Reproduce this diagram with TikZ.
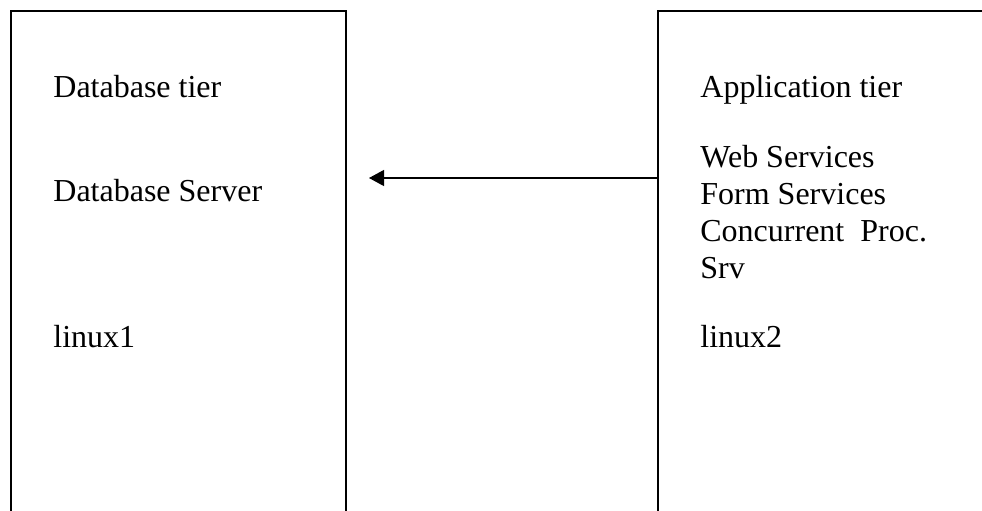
\documentclass[tikz,border=0pt]{standalone}
\usepackage{fontspec}
\setmainfont{Liberation Serif}
\usepackage{tikz}
\usetikzlibrary{arrows.meta}
\tikzstyle{tier} = [rectangle, draw, line width=0.9pt, anchor=north west,
    inner sep=0pt, minimum height=300pt]
\tikzstyle{tiertext} = [anchor=base west, inner sep=0pt, align=left,
    font=\fontsize{16}{18.4}\selectfont]
\tikzstyle{arrow} = [draw, -{Triangle[length=7.5pt,width=8pt]}, line width=0.6pt]

\begin{document}
\begin{tikzpicture}[x=0.5pt, y=-0.5pt]
			\clip (0,0) rectangle (982,510);
			% Place boxes
			\node [tier, minimum width=167.5pt] (dbbox) at (10,10) {};
			\node [tier, minimum width=200pt] (appbox) at (657,10) {};
			% Place texts (base = last line)
			\node [tiertext] (dbtier) at (53,97) {Database tier};
			\node [tiertext] (dbserver) at (53,201) {Database Server};
			\node [tiertext] (linuxone) at (53,347) {linux1};
			\node [tiertext] (apptier) at (700,97) {Application tier};
			\node [tiertext] (services) at (700,278) {Web Services\\Form Services\\Concurrent\ \ Proc.\\Srv};
			\node [tiertext] (linuxtwo) at (700,347) {linux2};
			%
			\coordinate (arrowtip) at (369,178);
			\path [arrow] (appbox.west |- arrowtip) -- (arrowtip);
\end{tikzpicture}
\end{document}
